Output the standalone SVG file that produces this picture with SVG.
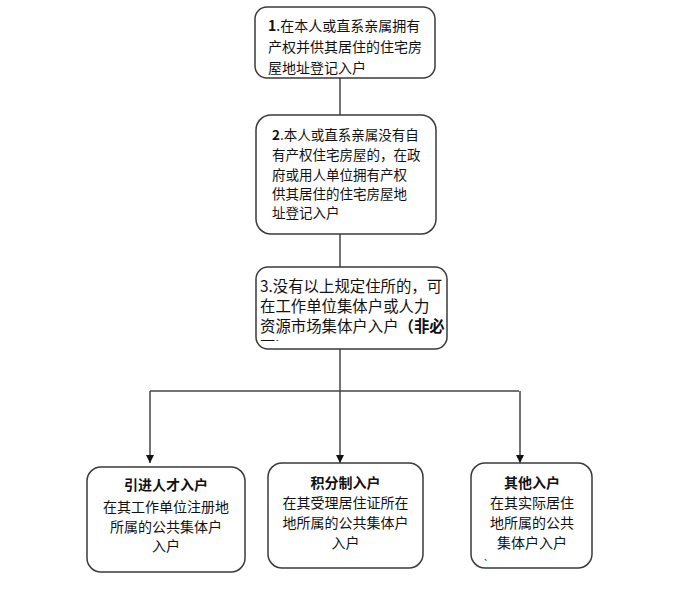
<svg xmlns="http://www.w3.org/2000/svg" width="673" height="594" viewBox="0 0 673 594">
<style>
.box{fill:#fff;stroke:#3a3a3a;stroke-width:1.5}
.t{font-family:"Noto Sans CJK SC","Liberation Sans",sans-serif;fill:#111;font-size:14px}
.c{text-anchor:middle}
.b{font-weight:bold}
.ln{stroke:#444;stroke-width:1.5;fill:none}
</style>
<defs>
<marker id="ah" viewBox="0 0 10 10" refX="10" refY="5" markerWidth="8" markerHeight="8" markerUnits="userSpaceOnUse" orient="auto">
<path d="M0,0 L10,5 L0,10 z" fill="#111"/>
</marker>
<clipPath id="clip3"><rect x="256" y="267" width="191" height="74"/></clipPath>
</defs>
<rect width="673" height="594" fill="#fff"/>
<g id="connectors">
<line class="ln" x1="340" y1="78" x2="340" y2="115"/>
<line class="ln" x1="340" y1="234" x2="340" y2="267"/>
<line class="ln" x1="340" y1="349" x2="340" y2="391"/>
<polyline class="ln" points="150,391 519,391"/>
<line class="ln" x1="150" y1="391" x2="150" y2="463" marker-end="url(#ah)"/>
<line class="ln" x1="340" y1="391" x2="340" y2="463" marker-end="url(#ah)"/>
<line class="ln" x1="520" y1="391" x2="520" y2="463" marker-end="url(#ah)"/>
</g>
<g id="node1">
<rect class="box" x="255" y="7" width="180" height="71" rx="12"/>
<text class="t" x="268" y="31"><tspan class="b">1</tspan>.在本人或直系亲属拥有</text>
<text class="t" x="268" y="52">产权并供其居住的住宅房</text>
<text class="t" x="268" y="73">屋地址登记入户</text>
</g>
<g id="node2">
<rect class="box" x="256" y="115" width="180" height="119" rx="15"/>
<text class="t" x="272" y="140" style="font-size:13.5px"><tspan class="b">2</tspan>.本人或直系亲属没有自</text>
<text class="t" x="272" y="160" style="font-size:13.5px">有产权住宅房屋的，在政</text>
<text class="t" x="272" y="180" style="font-size:13.5px">府或用人单位拥有产权</text>
<text class="t" x="272" y="199" style="font-size:13.5px">供其居住的住宅房屋地</text>
<text class="t" x="272" y="218" style="font-size:13.5px">址登记入户</text>
</g>
<g id="node3">
<rect class="box" x="256" y="267" width="191" height="82" rx="12"/>
<g clip-path="url(#clip3)">
<text class="t" x="260" y="292" style="font-size:15.4px">3.没有以上规定住所的，可</text>
<text class="t" x="260" y="312" style="font-size:15.4px">在工作单位集体户或人力</text>
<text class="t" x="260" y="332" style="font-size:15.4px">资源市场集体户入户<tspan class="b">（非必</tspan></text>
<text class="t b" x="260" y="353" style="font-size:15.4px">要）</text>
</g>
</g>
<g id="node4">
<rect class="box" x="87" y="467" width="158" height="105" rx="14"/>
<text class="t c b" x="166" y="490">引进人才入户</text>
<text class="t c" x="166" y="512">在其工作单位注册地</text>
<text class="t c" x="166" y="532">所属的公共集体户</text>
<text class="t c" x="166" y="551">入户</text>
</g>
<g id="node5">
<rect class="box" x="268" y="463" width="155" height="105" rx="14"/>
<text class="t c b" x="345.5" y="488">积分制入户</text>
<text class="t c" x="345.5" y="508">在其受理居住证所在</text>
<text class="t c" x="345.5" y="528">地所属的公共集体户</text>
<text class="t c" x="345.5" y="548">入户</text>
</g>
<g id="node6">
<rect class="box" x="471" y="463" width="121" height="105" rx="14"/>
<text class="t c b" x="532" y="488">其他入户</text>
<text class="t c" x="532" y="508">在其实际居住</text>
<text class="t c" x="532" y="528">地所属的公共</text>
<text class="t c" x="532" y="548">集体户入户</text>
<text class="t" x="484" y="560" style="font-size:8px">、</text>
</g>
</svg>
